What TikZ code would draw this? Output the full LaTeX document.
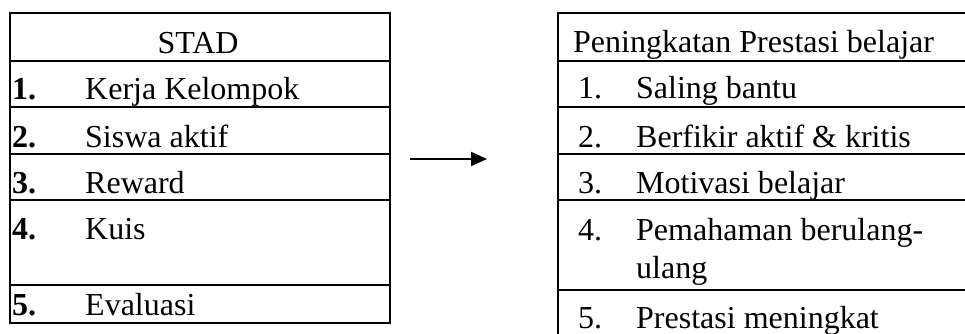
\documentclass[tikz,border=0pt]{standalone}
\usepackage{fontspec}
\setmainfont{Liberation Serif}
\usetikzlibrary{arrows.meta}
\begin{document}
\begin{tikzpicture}[x=1bp,y=-1bp,
  frame/.style={line width=2.8bp},
  txt/.style={anchor=base west, inner sep=0pt, font=\fontsize{32bp}{38bp}\selectfont},
  ctxt/.style={anchor=base, inner sep=0pt, font=\fontsize{32bp}{38bp}\selectfont},
  conn/.style={line width=2bp, -{Triangle[length=16bp,width=14bp]}}]
\useasboundingbox (0,0) rectangle (965,333);
\begin{scope}
\clip (0,0) rectangle (965,333);
% left box
\node[frame, draw, anchor=north west, minimum width=380bp, minimum height=310bp, inner sep=0pt, outer sep=0pt] (lbox) at (10,13) {};
\foreach \yy in {61,107,154,200,285} \draw[frame] (10,\yy) -- (390,\yy);
% right box (cut by the picture edge)
\node[frame, draw, anchor=north west, minimum width=430bp, minimum height=340bp, inner sep=0pt, outer sep=0pt] (rbox) at (558,13) {};
\foreach \yy in {61,107,154,200,290} \draw[frame] (558,\yy) -- (990,\yy);
\end{scope}
% left texts
\node[ctxt] (stad) at (198,53) {STAD};
\node[txt] (n1) at (12,99) {\textbf{1.}};
\node[txt] (t1) at (85,99) {Kerja Kelompok};
\node[txt] (n2) at (12,147) {\textbf{2.}};
\node[txt] (t2) at (85,147) {Siswa aktif};
\node[txt] (n3) at (12,193) {\textbf{3.}};
\node[txt] (t3) at (85,193) {Reward};
\node[txt] (n4) at (12,239) {\textbf{4.}};
\node[txt] (t4) at (85,239) {Kuis};
\node[txt] (n5) at (12,315) {\textbf{5.}};
\node[txt] (t5) at (85,315) {Evaluasi};
% right texts
\node[txt] (head) at (573,52) {Peningkatan Prestasi belajar};
\node[txt] (m1) at (578,98) {1.};
\node[txt] (u1) at (636,98) {Saling bantu};
\node[txt] (m2) at (578,147) {2.};
\node[txt] (u2) at (636,147) {Berfikir aktif \& kritis};
\node[txt] (m3) at (578,193) {3.};
\node[txt] (u3) at (636,193) {Motivasi belajar};
\node[txt] (m4) at (578,240) {4.};
\node[txt] (u4) at (636,240) {Pemahaman berulang-};
\node[txt] (u4b) at (636,278) {ulang};
\node[txt] (m5) at (578,328) {5.};
\node[txt] (u5) at (636,328) {Prestasi meningkat};
% arrow
\coordinate (a1) at (410,159);
\coordinate (a2) at (487,159);
\draw[conn] (a1) -- (a2);
\end{tikzpicture}
\end{document}
